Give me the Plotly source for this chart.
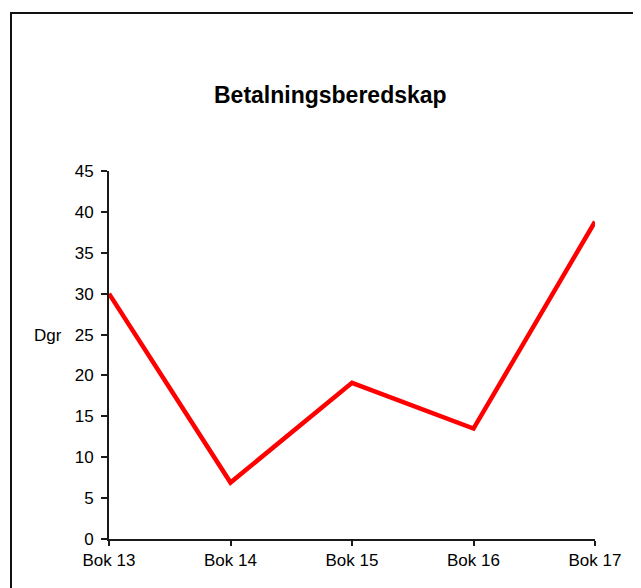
import plotly.graph_objects as go

categories = ["Bok 13", "Bok 14", "Bok 15", "Bok 16", "Bok 17"]
values = [30, 6.9, 19.1, 13.5, 38.8]
y_ticks = [0, 5, 10, 15, 20, 25, 30, 35, 40, 45]
title_text = "Betalningsberedskap"
y_label = "Dgr"

OFF = 8  # page body margin
W, H = 641 - OFF, 588 - OFF
L, R, T, B = 109 - OFF, 595 - OFF, 171 - OFF, 539 - OFF  # plot area pixel bounds
pw, ph = R - L, B - T

def px(x):
    return (x - OFF - L) / pw

def py(y):
    return (B - (y - OFF)) / ph

font = "Liberation Sans, Arial, sans-serif"

fig = go.Figure()
fig.add_trace(go.Scatter(
    x=list(range(len(categories))), y=values, mode="lines",
    line=dict(color="#ff0000", width=4.5), cliponaxis=False,
    hoverinfo="skip", showlegend=False,
))

fig.update_layout(
    width=W, height=H,
    margin=dict(l=L, r=W - R, t=T, b=H - B),
    paper_bgcolor="white", plot_bgcolor="white",
    font=dict(family=font, size=17, color="black"),
    xaxis=dict(
        range=[0, len(categories) - 1], tickmode="array",
        tickvals=list(range(len(categories))), ticktext=categories,
        showgrid=False, zeroline=False, showline=True,
        linecolor="#1a1a1a", linewidth=2,
        ticks="outside", ticklen=5, tickwidth=2, tickcolor="#1a1a1a",
        tickfont=dict(family=font, size=17, color="black"),
        fixedrange=True,
    ),
    yaxis=dict(
        range=[0, 45], tickmode="array", tickvals=y_ticks,
        showgrid=False, zeroline=False, showline=True,
        linecolor="#1a1a1a", linewidth=2,
        ticks="outside", ticklen=6, tickwidth=2, tickcolor="#1a1a1a",
        tickfont=dict(family=font, size=17, color="black"),
        ticklabelstandoff=4,
        fixedrange=True,
    ),
    annotations=[
        dict(text="<b>" + title_text + "</b>", x=px(330), y=py(95),
             xref="paper", yref="paper", showarrow=False,
             xanchor="center", yanchor="middle",
             font=dict(family=font, size=23, color="black")),
        dict(text=y_label, x=px(48), y=py(335),
             xref="paper", yref="paper", showarrow=False,
             xanchor="center", yanchor="middle",
             font=dict(family=font, size=17, color="black")),
    ],
    shapes=[
        dict(type="rect", xref="paper", yref="paper",
             x0=px(11), x1=px(660), y0=py(13), y1=py(600),
             line=dict(color="#111111", width=2), fillcolor="rgba(0,0,0,0)",
             layer="below"),
    ],
)

fig.write_html("out.html")
